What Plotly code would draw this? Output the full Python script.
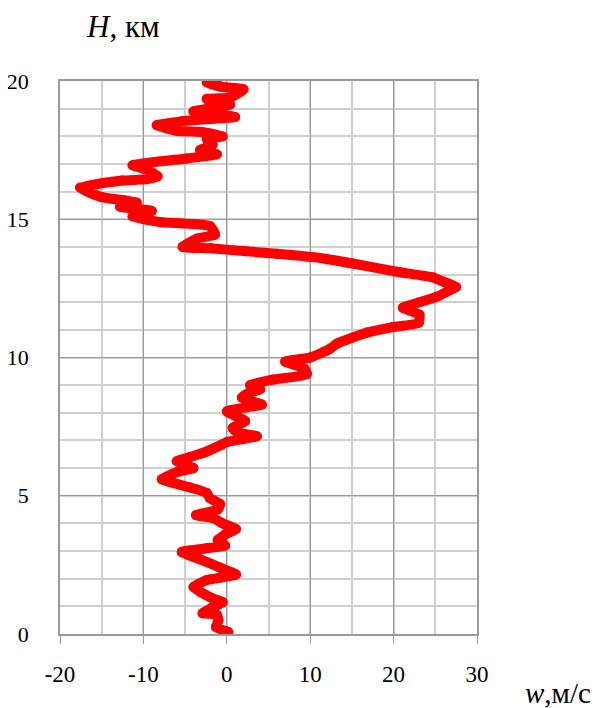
import plotly.graph_objects as go

# Vertical wind speed profile: height H (km) and speed w (m/s), ordered along the curve
H_km = [0.07, 0.25, 0.5, 0.7, 0.75, 0.95, 1.15, 1.3, 1.7, 1.95, 2.15, 2.4, 2.7, 2.97, 3.1,
        3.2, 3.4, 3.6, 3.8, 4.0, 4.2, 4.3, 4.5, 4.7, 4.9, 5.1, 5.3, 5.6, 5.85, 6.0,
        6.25, 6.4, 6.6, 6.85, 6.95, 7.15, 7.3, 7.45, 7.7, 8.05, 8.2, 8.3, 8.55, 8.7, 8.85,
        9.0, 9.2, 9.4, 9.6, 9.85, 10.0, 10.3, 10.5, 10.9, 11.1, 11.25, 11.55, 11.8, 12.0, 12.2,
        12.4, 12.55, 12.75, 12.9, 13.1, 13.4, 13.6, 13.75, 13.85, 13.95, 14.0, 14.3, 14.45, 14.75, 14.9,
        15.1, 15.3, 15.45, 15.6, 15.8, 16.0, 16.15, 16.4, 16.45, 16.55, 16.8, 16.95, 17.2, 17.35, 17.5,
        17.7, 17.9, 18.0, 18.15, 18.2, 18.4, 18.55, 18.7, 18.9, 19.15, 19.35, 19.4, 19.7, 19.8, 19.95,
        20.0]
w_ms = [0.2, -1.3, -1.0, -1.2, -2.9, -1.8, -0.5, -1.8, -4.0, -2.4, 1.1, -0.8, -3.2, -5.4, -2.4,
        -0.2, -1.1, -0.2, 1.1, -0.5, -1.7, -3.7, -1.1, -0.8, -2.0, -2.4, -4.4, -7.8, -6.0, -4.0,
        -6.0, -4.4, -2.4, -0.6, 0.1, 3.6, 1.2, 0.7, 2.2, 0.0, 2.4, 4.2, 1.8, 2.5, 4.0,
        2.8, 5.5, 9.6, 9.3, 7.0, 10.0, 12.3, 13.2, 16.8, 19.9, 23.0, 23.1, 21.1, 23.1, 25.2,
        26.5, 27.5, 25.9, 24.7, 20.4, 15.1, 11.2, 6.0, 2.0, -2.0, -5.3, -3.6, -1.4, -2.0, -8.0,
        -11.3, -9.0, -12.8, -10.8, -15.0, -16.7, -17.6, -12.5, -9.6, -8.3, -9.6, -11.3, -4.8, -1.2, -3.2,
        -1.7, -2.4, -0.5, -2.9, -6.0, -8.4, -5.3, 1.0, -4.0, 0.4, -2.4, 0.4, 2.0, -0.8, -2.4,
        -1.2]

x_ticks = [-20, -10, 0, 10, 20, 30]
y_ticks = [0, 5, 10, 15, 20]

FONT = "Liberation Serif"
MAJOR = "#9a9a9a"
MINOR = "#cfcfcf"

# page body has an 8px default margin; figure is sized so the plot area lands where the reference has it
OFF = 8
PL, PR, PT, PB = 60, 477, 81, 634  # plot area in window pixels
W, H = 598 - OFF, 708 - OFF

fig = go.Figure()
fig.add_trace(go.Scatter(
    x=w_ms, y=H_km, mode="lines+markers",
    line=dict(color="#ff0000", width=10, shape="spline", smoothing=0.45),
    marker=dict(color="#ff0000", size=10),
    hoverinfo="skip", showlegend=False,
))

pw, ph = PR - PL, PB - PT

fig.update_layout(
    width=W, height=H,
    margin=dict(l=PL - OFF, r=W - (PR - OFF), t=PT - OFF, b=H - (PB - OFF), autoexpand=False),
    paper_bgcolor="white", plot_bgcolor="white",
    font=dict(family=FONT, size=23, color="black"),
    xaxis=dict(
        range=[-20, 30], tickvals=x_ticks, ticktext=[str(v) for v in x_ticks],
        showgrid=True, gridcolor=MAJOR, gridwidth=1,
        minor=dict(dtick=5, tick0=0, showgrid=True, gridcolor=MINOR, gridwidth=1.5),
        zeroline=False, showline=True, linecolor=MAJOR, linewidth=1.5, mirror=True,
        ticks="outside", ticklen=8, tickcolor=MAJOR, tickwidth=1,
        ticklabelstandoff=11, automargin=False,
        tickfont=dict(family=FONT, size=23),
    ),
    yaxis=dict(
        range=[0, 20], tickvals=y_ticks, ticktext=[str(v) for v in y_ticks],
        showgrid=True, gridcolor=MAJOR, gridwidth=1,
        minor=dict(dtick=1, tick0=0, showgrid=True, gridcolor=MINOR, gridwidth=1.5),
        zeroline=False, showline=True, linecolor=MAJOR, linewidth=1.5, mirror=True,
        ticks="", ticklabelstandoff=25, automargin=False,
        tickfont=dict(family=FONT, size=22),
    ),
    annotations=[
        dict(text="<i>H</i>, км", xref="paper", yref="paper",
             x=(84 - PL) / pw, y=(PB - 27) / ph, xanchor="left", yanchor="middle",
             showarrow=False, font=dict(family=FONT, size=31)),
        dict(text="<i>w</i>,м/с", xref="paper", yref="paper",
             x=(523 - PL) / pw, y=(PB - 693) / ph, xanchor="left", yanchor="middle",
             showarrow=False, font=dict(family=FONT, size=29)),
    ],
)

fig.write_html("out.html")
